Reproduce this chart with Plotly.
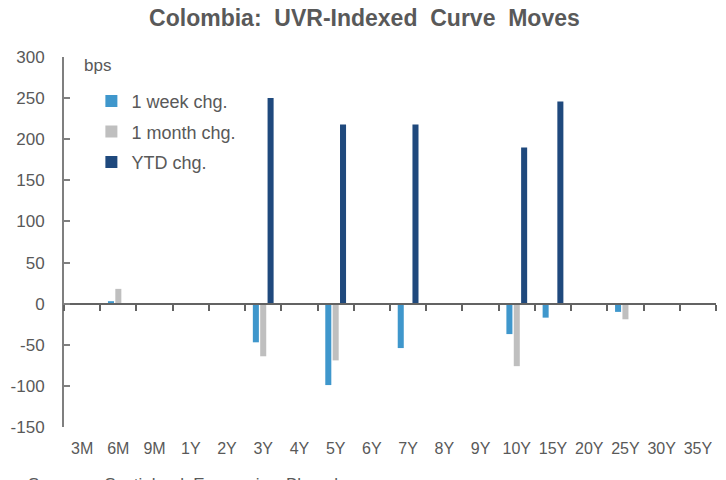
import plotly.graph_objects as go

categories = ["3M", "6M", "9M", "1Y", "2Y", "3Y", "4Y", "5Y", "6Y", "7Y",
              "8Y", "9Y", "10Y", "15Y", "20Y", "25Y", "30Y", "35Y"]
week_chg = [None, 3, None, None, None, -47, None, -99, None, -54,
            None, None, -37, -17, None, -10, None, None]
month_chg = [None, 18, None, None, None, -64, None, -69, None, None,
             None, None, -76, None, None, -19, None, None]
ytd_chg = [None, None, None, None, None, 250, None, 218, None, 218,
           None, None, 190, 246, None, None, None, None]

series_names = ["1 week chg.", "1 month chg.", "YTD chg."]
series_colors = ["#3F97CC", "#BFBFBF", "#1F497D"]
y_ticks = [-150, -100, -50, 0, 50, 100, 150, 200, 250, 300]
y_tick_text = [str(v) for v in y_ticks]

FONT = "Liberation Sans, Arial, sans-serif"
GREY = "#595959"

fig = go.Figure()
for i, (name, vals, col) in enumerate(zip(series_names, [week_chg, month_chg, ytd_chg], series_colors)):
    fig.add_trace(go.Bar(x=categories, y=vals, name=name, marker_color=col,
                         marker_line_width=0, legendgroup=f"g{i}"))

# helper trace to draw the category axis through zero
fig.add_trace(go.Scatter(x=categories, y=[None] * len(categories), xaxis="x2",
                         showlegend=False, hoverinfo="skip", mode="markers"))

ymin, ymax = -150, 300
fig.update_layout(
    width=726, height=480,
    margin=dict(l=56, r=18, t=49, b=61),
    plot_bgcolor="white", paper_bgcolor="white",
    barmode="group", bargap=0.39, bargroupgap=0.18,
    font=dict(family=FONT, size=16, color=GREY),
    title=dict(text="<b>Colombia:  UVR-Indexed  Curve  Moves</b>", x=0.491, xanchor="center",
               xref="container", y=0.979, yanchor="middle", automargin=False,
               font=dict(size=23, color=GREY, family=FONT)),
    xaxis=dict(type="category", categoryorder="array", categoryarray=categories,
               range=[-0.5, len(categories) - 0.5], showline=False, ticks="",
               showgrid=False, zeroline=False, ticklabelstandoff=10, automargin=False,
               tickfont=dict(size=16, color=GREY)),
    xaxis2=dict(type="category", categoryorder="array", categoryarray=categories,
                range=[-0.5, len(categories) - 0.5], overlaying="x", anchor="free",
                position=(0 - ymin) / (ymax - ymin), side="bottom", automargin=False,
                showline=True, linecolor="#636363", linewidth=2,
                ticks="outside", ticklen=6, tickwidth=2, tickcolor="#636363",
                tickson="boundaries", showticklabels=False, showgrid=False),
    yaxis=dict(range=[ymin, ymax], tickvals=y_ticks, ticktext=y_tick_text,
               showgrid=False, zeroline=False, automargin=False,
               showline=True, linecolor="#7f7f7f", linewidth=2,
               ticks="inside", ticklen=6, tickwidth=2, tickcolor="#7f7f7f",
               tickfont=dict(size=17, color=GREY), ticklabelstandoff=14),
    legend=dict(x=0.042, y=0.93, xanchor="left", yanchor="top",
                bgcolor="rgba(0,0,0,0)", font=dict(size=18, color=GREY),
                tracegroupgap=4, itemwidth=30),
    annotations=[
        dict(text="bps", xref="paper", yref="paper", x=0.0276, y=0.976, xanchor="left",
             yanchor="middle", showarrow=False, font=dict(size=17, color=GREY)),
        dict(text="Sources:  Scotiabank Economics, Bloomberg.", xref="paper", yref="paper",
             x=-0.058, y=-0.124, xanchor="left", yanchor="top", showarrow=False,
             font=dict(size=17, color=GREY)),
    ],
)

fig.write_html("out.html")
